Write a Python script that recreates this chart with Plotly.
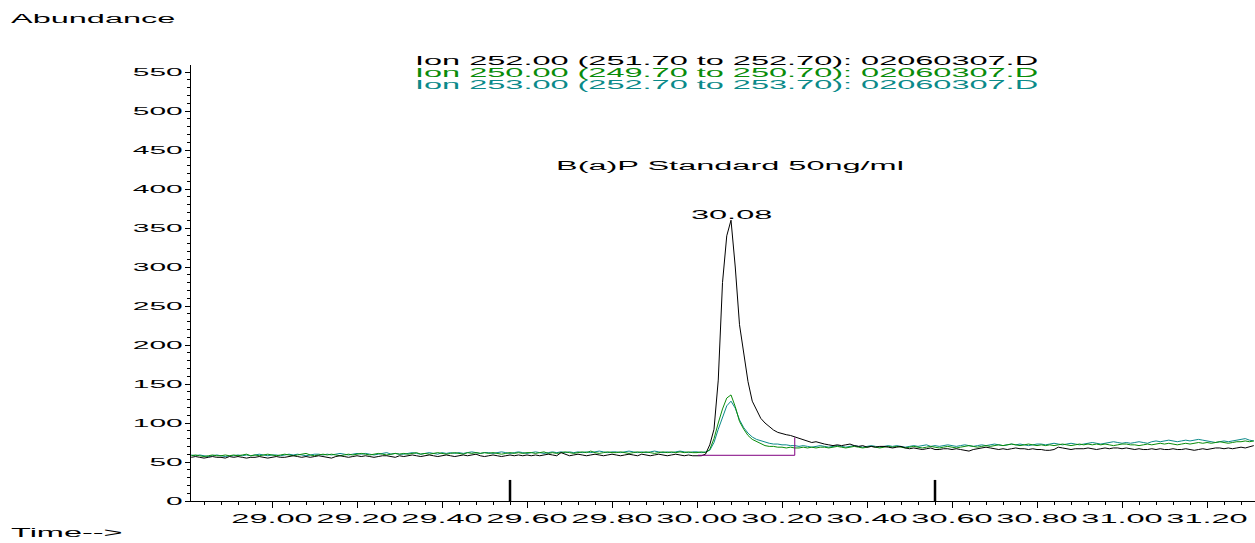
import numpy as np
import plotly.graph_objects as go

# ---------------- data ----------------
t_start, t_step, n_pts = 28.81, 0.01, 251
times = np.round(t_start + t_step * np.arange(n_pts), 2)

ion252 = [
    56, 57, 56, 55, 56, 57, 56, 56, 55, 57,
    56, 57, 56, 55, 56, 56, 57, 56, 55, 56,
    57, 56, 56, 57, 58, 57, 56, 57, 56, 57,
    58, 57, 56, 55, 57, 58, 57, 56, 57, 58,
    57, 58, 57, 56, 57, 58, 58, 57, 56, 58,
    57, 58, 59, 58, 57, 58, 59, 58, 57, 58,
    59, 58, 57, 58, 59, 58, 59, 60, 58, 57,
    58, 59, 58, 57, 58, 59, 58, 59, 58, 59,
    58, 59, 58, 59, 60, 59, 58, 62, 60, 58,
    59, 60, 59, 58, 59, 60, 59, 58, 59, 60,
    59, 58, 59, 60, 59, 58, 60, 59, 58, 59,
    60, 59, 58, 59, 60, 59, 58, 59, 58, 58,
    58, 60, 72, 92, 155, 280, 340, 360, 300, 226,
    188, 153, 128, 116, 106, 100, 95, 91, 88, 86,
    85, 84, 82, 81, 79, 77, 75, 76, 74, 73,
    72, 71, 72, 71, 72, 73, 71, 70, 71, 69,
    70, 69, 70, 70, 69, 68, 69, 70, 68, 67,
    68, 67, 66, 67, 68, 66, 66, 67, 67, 66,
    67, 66, 65, 64, 66, 67, 68, 69, 68, 67,
    66, 67, 66, 67, 68, 67, 67, 66, 67, 66,
    66, 65, 65, 66, 69, 68, 67, 66, 67, 67,
    67, 68, 67, 66, 67, 68, 67, 68, 68, 67,
    68, 67, 66, 67, 66, 66, 67, 66, 67, 66,
    66, 67, 66, 66, 67, 66, 65, 66, 67, 66,
    67, 68, 68, 67, 68, 67, 68, 69, 68, 70, 71,
]

ion250 = [
    58, 59, 58, 57, 58, 59, 58, 58, 59, 58,
    59, 58, 59, 60, 58, 59, 58, 59, 60, 59,
    58, 59, 60, 59, 58, 59, 60, 61, 59, 58,
    59, 60, 59, 60, 59, 58, 59, 60, 59, 60,
    61, 60, 59, 60, 61, 60, 59, 60, 61, 60,
    61, 60, 61, 62, 60, 61, 60, 61, 62, 61,
    60, 61, 62, 61, 60, 62, 61, 62, 61, 62,
    61, 62, 61, 60, 61, 62, 61, 62, 61, 62,
    62, 61, 62, 63, 61, 62, 61, 62, 63, 62,
    61, 62, 63, 62, 64, 62, 61, 62, 63, 62,
    62, 63, 62, 61, 62, 63, 62, 63, 62, 61,
    62, 63, 62, 63, 62, 63, 62, 63, 62, 62,
    63, 62, 66, 80, 100, 118, 132, 136, 121, 102,
    92, 84, 79, 76, 73, 71, 70, 70, 69, 69,
    68, 69, 68, 68, 69, 68, 69, 68, 69, 69,
    68, 69, 70, 69, 68, 69, 70, 69, 68, 69,
    70, 69, 68, 69, 70, 69, 70, 69, 68, 69,
    70, 69, 68, 69, 70, 69, 68, 69, 70, 69,
    68, 69, 70, 71, 70, 69, 70, 71, 70, 71,
    72, 71, 72, 73, 72, 71, 72, 73, 72, 71,
    72, 71, 72, 71, 72, 73, 72, 71, 72, 73,
    72, 73, 72, 73, 72, 73, 72, 71, 72, 73,
    73, 72, 72, 71, 72, 73, 72, 73, 74, 73,
    74, 73, 72, 73, 74, 73, 74, 75, 74, 75,
    74, 75, 76, 75, 74, 75, 76, 76, 77, 76, 77,
]

ion253 = [
    59, 58, 59, 58, 57, 58, 59, 58, 57, 58,
    58, 59, 58, 59, 58, 59, 60, 59, 58, 59,
    59, 58, 59, 60, 59, 60, 59, 58, 59, 60,
    60, 59, 60, 59, 60, 61, 60, 59, 60, 61,
    60, 61, 60, 59, 60, 61, 62, 60, 61, 60,
    60, 61, 62, 61, 60, 61, 62, 61, 60, 62,
    61, 62, 61, 62, 61, 62, 63, 62, 61, 62,
    62, 61, 62, 63, 62, 61, 62, 63, 62, 61,
    62, 63, 62, 61, 62, 63, 62, 63, 62, 63,
    62, 63, 62, 63, 62, 63, 64, 63, 62, 63,
    63, 62, 63, 64, 63, 62, 63, 62, 63, 64,
    63, 62, 63, 62, 63, 64, 63, 62, 63, 63,
    62, 63, 65, 75, 92, 108, 122, 128, 119, 104,
    94, 87, 82, 79, 77, 75, 74, 73, 73, 72,
    72, 71, 71, 70, 71, 70, 69, 70, 71, 70,
    69, 70, 71, 70, 69, 70, 71, 70, 69, 70,
    71, 70, 69, 70, 71, 70, 71, 70, 69, 70,
    71, 70, 71, 72, 70, 71, 70, 71, 72, 71,
    70, 71, 72, 71, 70, 71, 72, 71, 72, 73,
    72, 71, 72, 73, 72, 73, 72, 71, 72, 73,
    73, 72, 73, 74, 73, 72, 73, 74, 73, 72,
    73, 74, 75, 74, 73, 74, 75, 76, 75, 74,
    75, 74, 75, 76, 75, 74, 76, 77, 76, 77,
    78, 77, 76, 77, 78, 77, 78, 79, 78, 77,
    76, 75, 76, 77, 76, 77, 78, 79, 80, 78, 77,
]

series_names = [
    "Ion 252.00 (251.70 to 252.70): 02060307.D",
    "Ion 250.00 (249.70 to 250.70): 02060307.D",
    "Ion 253.00 (252.70 to 253.70): 02060307.D",
]
series_colors = ["#000000", "#0a8c0a", "#0b8a8a"]

baseline_t = [30.002, 30.23, 30.23]
baseline_y = [58.6, 58.6, 81.5]

event_times = [29.56, 30.56]
event_height = 27

peak_time = 30.08
peak_height = 360
sample_title = "B(a)P Standard 50ng/ml"

x_range = [28.8094, 31.3129]
y_range = [0, 559]

# ---------------- figure ----------------
W, H = 1255, 543
ML, MR, MT, MB = 191, 0, 65, 42
PW, PH = W - ML - MR, H - MT - MB
FONT = "Liberation Sans, Arial, Helvetica, sans-serif"
STRETCH = 2.6


def px(xp):
    return (xp - ML) / PW


def py(yp):
    return (H - MB - yp) / PH


fig = go.Figure()
for vals, name, col in [(ion253, series_names[2], series_colors[2]),
                        (ion250, series_names[1], series_colors[1]),
                        (ion252, series_names[0], series_colors[0])]:
    fig.add_trace(go.Scatter(x=times, y=vals, mode="lines", name=name,
                             line=dict(color=col, width=1)))

fig.add_trace(go.Scatter(x=baseline_t, y=baseline_y, mode="lines",
                         line=dict(color="#800080", width=1), showlegend=False))

for et in event_times:
    fig.add_trace(go.Scatter(x=[et, et], y=[0, event_height], mode="lines",
                             line=dict(color="#000000", width=2.5), showlegend=False))

annos = []
annos.append(dict(text="Abundance", xref="paper", yref="paper", x=px(10), y=py(19),
                  xanchor="left", yanchor="middle", align="left"))
annos.append(dict(text="Time-->", xref="paper", yref="paper", x=px(10), y=py(533),
                  xanchor="left", yanchor="middle", align="left"))
for i, (name, col) in enumerate(zip(series_names, series_colors)):
    annos.append(dict(text=name, xref="paper", yref="paper", x=px(414), y=py(60.5 + 12 * i),
                      xanchor="left", yanchor="middle", align="left", font=dict(color=col)))
annos.append(dict(text=sample_title, xref="paper", yref="paper", x=px(730), y=py(166),
                  xanchor="center", yanchor="middle", align="center"))
annos.append(dict(text=f"{peak_time:.2f}", xref="x", yref="y", x=peak_time, y=peak_height,
                  xanchor="center", yanchor="bottom", align="center", yshift=-3))
for a in annos:
    a["showarrow"] = False
    f = a.get("font", {})
    f.setdefault("family", FONT)
    f.setdefault("size", 12.5)
    f.setdefault("color", "#000000")
    a["font"] = f
    a["borderpad"] = 0

fig.update_layout(
    width=W, height=H,
    margin=dict(l=ML, r=MR, t=MT, b=MB, pad=0),
    paper_bgcolor="white", plot_bgcolor="white",
    showlegend=False, hovermode=False,
    font=dict(family=FONT, size=12.5, color="black"),
    annotations=annos,
    xaxis=dict(range=x_range, showgrid=False, zeroline=False, showline=True,
               linecolor="black", linewidth=1, ticks="outside", ticklen=6,
               tickcolor="black", tickwidth=1, tickmode="linear", tick0=29.0, dtick=0.2,
               tickformat=".2f", tickangle=0, tickfont=dict(size=12.5),
               minor=dict(dtick=0.04, tick0=29.0, ticklen=3, ticks="outside",
                          tickcolor="black", tickwidth=1, showgrid=False)),
    yaxis=dict(range=y_range, showgrid=False, zeroline=False, showline=True,
               linecolor="black", linewidth=1, ticks="outside", ticklen=5,
               tickcolor="black", tickwidth=1, tickmode="linear", tick0=0, dtick=50,
               tickfont=dict(size=11.5),
               minor=dict(dtick=10, tick0=0, ticklen=3, ticks="outside",
                          tickcolor="black", tickwidth=1, showgrid=False)),
)

post_js = """
document.documentElement.style.margin = '0';
document.documentElement.style.padding = '0';
document.body.style.margin = '0';
document.body.style.padding = '0';
document.body.style.overflow = 'hidden';
var gd = document.getElementById('{plot_id}');
var S = %s;
gd.querySelectorAll('svg text').forEach(function(t){
  if (t.getAttribute('data-sx')) return;
  var x = parseFloat(t.getAttribute('x')) || 0;
  var tr = t.getAttribute('transform') || '';
  t.setAttribute('transform', tr + ' translate(' + x + ',0) scale(' + S + ',1) translate(' + (-x) + ',0)');
  t.setAttribute('data-sx', '1');
});
""" % STRETCH

fig.write_html("out.html", post_script=post_js,
               config=dict(displayModeBar=False, staticPlot=True))
